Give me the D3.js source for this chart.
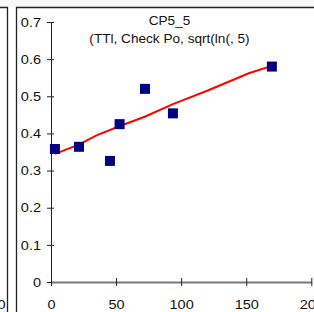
<!DOCTYPE html>
<html>
<head>
<meta charset="utf-8">
<script src="https://cdn.jsdelivr.net/npm/d3@7"></script>
<style>
  html, body { margin: 0; padding: 0; background: #fff; }
  svg { display: block; font-family: "Liberation Sans", Arial, sans-serif; }
</style>
</head>
<body>
<svg width="314" height="312"></svg>
<script>
// observed points (x, y)
var pointX = [3, 21.5, 45.3, 52.7, 72.2, 93.7, 169.7];
var pointY = [0.358, 0.364, 0.326, 0.425, 0.52, 0.454, 0.58];

// fitted curve
var fitX = [3, 21.5, 35, 53, 72, 93.7, 120, 152, 169.7];
var fitY = [0.345, 0.37, 0.395, 0.42, 0.445, 0.479, 0.515, 0.562, 0.582];

var xTicks = [0, 50, 100, 150, 200];
var yTicks = [0, 0.1, 0.2, 0.3, 0.4, 0.5, 0.6, 0.7];
var titleLines = ["CP5_5", "(TTl, Check Po, sqrt(ln(, 5)"];

var titleSize = "12.6px";
var tickSize = "13.2px";
var stretch = 1.08; // text looks a bit wide in the source
var tickStretch = 1.1;

var svg = d3.select("svg");

// light strip above the frames
svg.append("rect").attr("x", 0).attr("y", 0).attr("width", 314).attr("height", 7)
    .style("fill", "#f7f7f7");

// neighbour chart frame (right edge only visible)
svg.append("path").attr("d", "M0,7.5H7.5V312")
    .style("fill", "none").style("stroke", "#222").style("stroke-width", 1.3);
svg.append("text").attr("x", 5.5).attr("y", 309).attr("text-anchor", "end")
    .style("font-size", tickSize).style("fill", "#111").text("200")
    .attr("transform", "translate(5.5,0) scale(" + tickStretch + ",1) translate(-5.5,0)");

// this chart frame
svg.append("path").attr("d", "M16.5,312V7.5H314")
    .style("fill", "none").style("stroke", "#222").style("stroke-width", 1.3);

var xScale = d3.scaleLinear().domain([0, 200]).range([51, 311.3]);
var yScale = d3.scaleLinear().domain([0, 0.7]).range([282, 22]);

// y axis
var yAxis = svg.append("g")
    .attr("transform", "translate(" + xScale(0) + ",0)")
    .call(d3.axisLeft(yScale).tickValues(yTicks).tickSizeInner(4).tickSizeOuter(0)
        .tickFormat(function(d) { return d === 0 ? "0" : d3.format(".1f")(d); }));
yAxis.select(".domain").style("stroke", "#222");
yAxis.selectAll(".tick line").attr("x1", -4).attr("x2", 3).style("stroke", "#222");
yAxis.selectAll(".tick text").attr("x", -10)
    .style("font-size", tickSize).style("fill", "#111").attr("font-family", null)
    .attr("transform", "translate(-10,0) scale(" + tickStretch + ",1) translate(10,0)");

// x axis
var xAxis = svg.append("g")
    .attr("transform", "translate(0," + yScale(0) + ")")
    .call(d3.axisBottom(xScale).tickValues(xTicks).tickSizeInner(4).tickSizeOuter(0));
xAxis.select(".domain").style("stroke", "#777").style("stroke-width", 2);
xAxis.selectAll(".tick line").attr("y1", -4).attr("y2", 4).style("stroke", "#222");
xAxis.selectAll(".tick text").attr("y", 27).attr("dy", null)
    .style("font-size", tickSize).style("fill", "#111").attr("font-family", null)
    .attr("transform", "scale(" + tickStretch + ",1)");

// fitted line
var fitData = fitX.map(function(x, i) { return {x: x, y: fitY[i]}; });
svg.append("path")
    .datum(fitData)
    .attr("d", d3.line().x(function(d) { return xScale(d.x); }).y(function(d) { return yScale(d.y); }))
    .style("fill", "none").style("stroke", "#ff0000").style("stroke-width", 2);

// points
var pts = pointX.map(function(x, i) { return {x: x, y: pointY[i]}; });
svg.selectAll("rect.pt").data(pts).enter().append("rect")
    .attr("class", "pt")
    .attr("x", function(d) { return xScale(d.x) - 5; })
    .attr("y", function(d) { return yScale(d.y) - 5; })
    .attr("width", 10).attr("height", 10)
    .style("fill", "#000080");

// title
var tx = 169.5;
svg.selectAll("text.title").data(titleLines).enter().append("text")
    .attr("class", "title")
    .attr("x", tx)
    .attr("y", function(d, i) { return 25 + i * 18; })
    .attr("text-anchor", "middle")
    .style("font-size", titleSize).style("fill", "#111")
    .attr("transform", "translate(" + tx + ",0) scale(" + stretch + ",1) translate(" + (-tx) + ",0)")
    .text(function(d) { return d; });
</script>
</body>
</html>
